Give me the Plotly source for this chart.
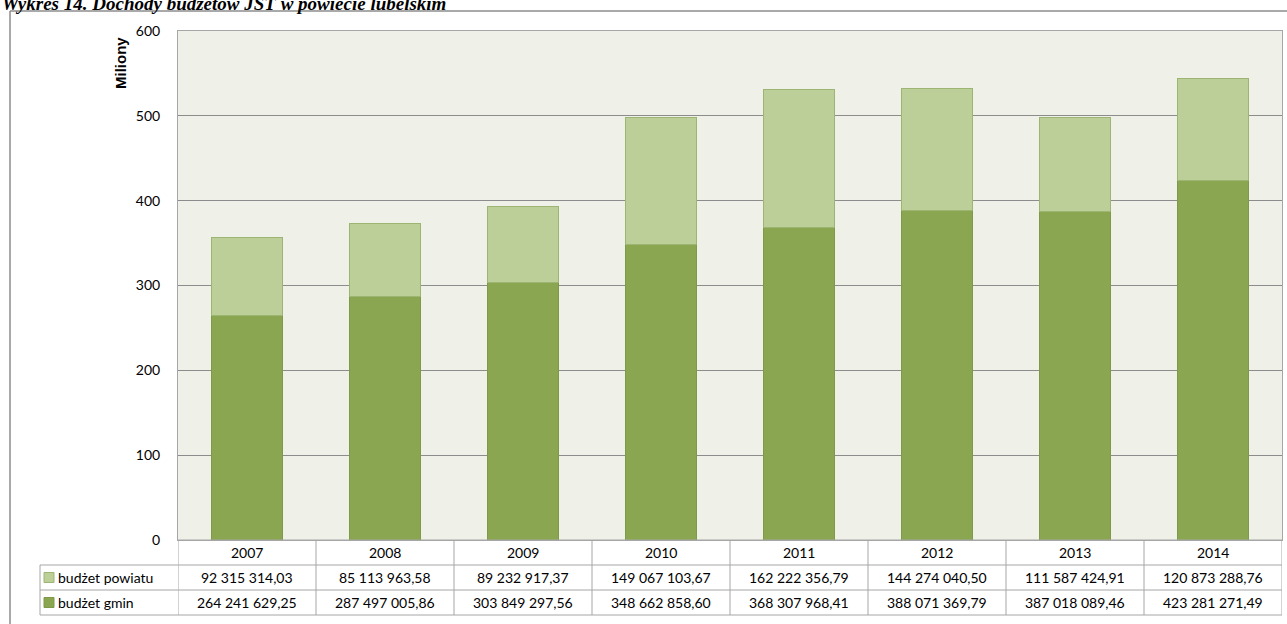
import plotly.graph_objects as go

years = ["2007", "2008", "2009", "2010", "2011", "2012", "2013", "2014"]
budzet_powiatu = [92315314.03, 85113963.58, 89232917.37, 149067103.67,
                  162222356.79, 144274040.50, 111587424.91, 120873288.76]
budzet_gmin = [264241629.25, 287497005.86, 303849297.56, 348662858.60,
               368307968.41, 388071369.79, 387018089.46, 423281271.49]
series_names = ["budżet powiatu", "budżet gmin"]
y_ticks = [0, 100, 200, 300, 400, 500, 600]

C_LIGHT = "#BCCF98"
C_DARK = "#8BA650"
FONT = "Lato, Open Sans, sans-serif"

W, H = 1287, 624
L, R, T, B = 178, 5, 31, 84
PW = W - L - R
PH = H - T - B


def px_x(px):
    return (px - L) / PW


def px_y(py):
    return (H - B - py) / PH


def fmt(v):
    s = f"{v:,.2f}"
    return s.replace(",", " ").replace(".", ",")


x = list(range(len(years)))
fig = go.Figure()
fig.add_trace(go.Bar(x=x, y=[v / 1e6 for v in budzet_gmin], name=series_names[1],
                     marker=dict(color=C_DARK, line=dict(color="#7E9948", width=1))))
fig.add_trace(go.Bar(x=x, y=[v / 1e6 for v in budzet_powiatu], name=series_names[0],
                     marker=dict(color=C_LIGHT, line=dict(color="#9DB572", width=1))))

shapes = []
annotations = []
LINE = "#A6A6A6"
row_lines = [540, 565, 590, 615]
for i, py in enumerate(row_lines):
    x0 = px_x(178) if i == 0 else px_x(40)
    shapes.append(dict(type="line", xref="paper", yref="paper", x0=x0, x1=1,
                       y0=px_y(py), y1=px_y(py), line=dict(color=LINE, width=1)))
for i in range(len(years) + 1):
    shapes.append(dict(type="line", xref="x", yref="paper", x0=i - 0.5, x1=i - 0.5,
                       y0=px_y(540), y1=px_y(615), line=dict(color=LINE, width=1)))
shapes.append(dict(type="line", xref="paper", yref="paper", x0=px_x(40), x1=px_x(40),
                   y0=px_y(565), y1=px_y(615), line=dict(color=LINE, width=1)))

rows = [(552.5, years), (577.5, [fmt(v) for v in budzet_powiatu]),
        (602.5, [fmt(v) for v in budzet_gmin])]
for py, texts in rows:
    for i, t in enumerate(texts):
        annotations.append(dict(x=i, y=px_y(py), xref="x", yref="paper", text=t,
                                showarrow=False, xanchor="center", yanchor="middle",
                                font=dict(family=FONT, size=14, color="#000000")))

for py, name, col, lc in [(577.5, series_names[0], C_LIGHT, "#9DB572"),
                          (602.5, series_names[1], C_DARK, "#7E9948")]:
    shapes.append(dict(type="rect", xref="paper", yref="paper",
                       x0=px_x(44), x1=px_x(54), y0=px_y(py + 5), y1=px_y(py - 5),
                       fillcolor=col, line=dict(color=lc, width=1)))
    annotations.append(dict(x=px_x(56), y=px_y(py), xref="paper", yref="paper", text=name,
                            showarrow=False, xanchor="left", yanchor="middle",
                            font=dict(family=FONT, size=14, color="#000000")))

# outer chart frame (top and left)
shapes.append(dict(type="line", xref="paper", yref="paper", x0=px_x(10), x1=px_x(1290),
                   y0=px_y(11), y1=px_y(11), line=dict(color="#8C8C8C", width=1.5)))
shapes.append(dict(type="line", xref="paper", yref="paper", x0=px_x(10), x1=px_x(10),
                   y0=px_y(11), y1=px_y(630), line=dict(color="#8C8C8C", width=1.5)))

annotations.append(dict(x=px_x(120), y=px_y(63), xref="paper", yref="paper", text="<b>Miliony</b>",
                        showarrow=False, textangle=-90, xanchor="center", yanchor="middle",
                        font=dict(family="Liberation Sans, Arial, sans-serif", size=15, color="#000000")))

annotations.append(dict(x=px_x(0), y=px_y(3), xref="paper", yref="paper",
                        text="<b><i>Wykres 14. Dochody budżetów JST w powiecie lubelskim</i></b>",
                        showarrow=False, xanchor="left", yanchor="middle",
                        font=dict(family="Liberation Serif, serif", size=19, color="#000000")))

fig.update_layout(
    width=W, height=H,
    margin=dict(l=L, r=R, t=T, b=B, pad=0),
    barmode="stack",
    bargap=0.49,
    showlegend=False,
    paper_bgcolor="#FFFFFF",
    plot_bgcolor="#EFF1E8",
    shapes=shapes,
    annotations=annotations,
    xaxis=dict(range=[-0.5, len(years) - 0.5], showticklabels=False, ticks="",
               showgrid=False, zeroline=False, showline=True, linecolor=LINE, mirror=True),
    yaxis=dict(range=[0, 600], tickvals=y_ticks, ticks="", showgrid=True,
               gridcolor="#8C8C8C", gridwidth=1, zeroline=False,
               showline=True, linecolor=LINE, mirror=True, ticklabelstandoff=14,
               tickfont=dict(family=FONT, size=14, color="#000000")),
)

fig.write_html("out.html", config={"displayModeBar": False},
               post_script="document.body.style.margin='0';document.body.style.overflow='hidden';")
